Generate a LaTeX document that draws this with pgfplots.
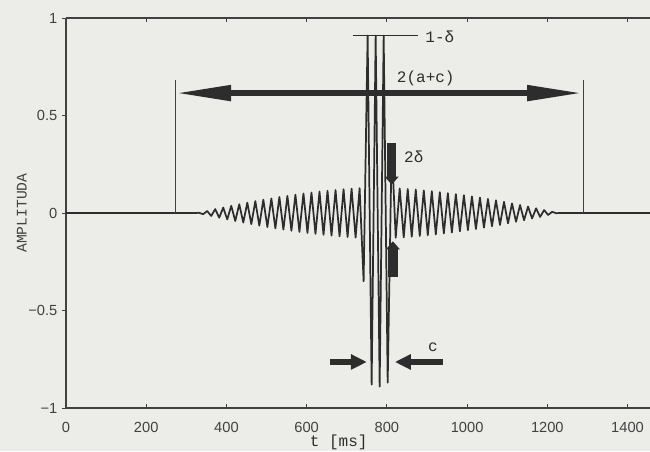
\documentclass[border=0pt]{standalone}
\usepackage{fontspec}
\setmainfont{Liberation Sans}
\newfontfamily\mono{Liberation Mono}
\usepackage{pgfplots}
\pgfplotsset{compat=1.18}
\usetikzlibrary{arrows.meta}
\definecolor{bg}{RGB}{236,236,232}
\definecolor{ink}{RGB}{45,45,45}
\definecolor{axc}{RGB}{65,65,65}
\begin{document}
\begin{tikzpicture}
\fill[bg] (-49.5pt,-32.25pt) rectangle (438pt,306pt);
\begin{axis}[
  at={(0,0)}, anchor=south west,
  scale only axis, width=438pt, height=292.5pt,
  xmin=0, xmax=1456, ymin=-1, ymax=1,
  separate axis lines,
  axis x line*=box, axis y line*=left,
  axis line style={axc, line width=0.9pt},
  xtick={0,200,...,1400}, ytick={-1,-0.5,0,0.5,1},
  yticklabels={−1,−0.5,0,0.5,1},
  /pgf/number format/1000 sep={},
  /pgf/number format/assume math mode=true,
  x tick style={axc, line width=0.6pt}, y tick style={axc, line width=0.6pt},
  xtick align=inside, ytick align=outside,
  major tick length=3pt,
  tick label style={font=\fontsize{11}{12}\selectfont, text=axc},
  xticklabel style={yshift=-7pt},
  xlabel={t [ms]}, ylabel={AMPLITUDA},
  xlabel style={at={(axis cs:680,-1)}, anchor=center, yshift=-26pt, font=\mono\fontsize{12}{13}\selectfont, text=ink},
  ylabel style={at={(axis description cs:-0.0755,0.5)}, anchor=center, font=\mono\fontsize{11}{12}\selectfont, text=axc},
  clip=true,
]
% signal
\addplot[ink, line width=1.3pt, line join=round] coordinates {
(0,0) (322,0)
(332,0.001) (342,-0.006) (352,0.010) (362,-0.015) (372,0.020) (382,-0.024)
(392,0.028) (402,-0.033) (412,0.037) (422,-0.041) (432,0.045) (442,-0.049)
(452,0.053) (462,-0.057) (472,0.061) (482,-0.065) (492,0.068) (502,-0.072)
(512,0.075) (522,-0.079) (532,0.082) (542,-0.085) (552,0.088) (562,-0.091)
(572,0.094) (582,-0.097) (592,0.100) (602,-0.102) (612,0.105) (622,-0.107)
(632,0.110) (642,-0.112) (652,0.114) (662,-0.116) (672,0.118) (682,-0.120)
(692,0.122) (702,-0.123) (712,0.125) (722,-0.126) (732,0.127)
(742,-0.35) (752,0.91) (762,-0.88) (772,0.91) (782,-0.89) (792,0.91) (802,-0.87)
(812,0.35)
(822,-0.127) (832,0.126) (842,-0.125) (852,0.123) (862,-0.122) (872,0.120)
(882,-0.118) (892,0.116) (902,-0.114) (912,0.112) (922,-0.110) (932,0.107)
(942,-0.105) (952,0.102) (962,-0.100) (972,0.097) (982,-0.094) (992,0.091)
(1002,-0.088) (1012,0.085) (1022,-0.082) (1032,0.079) (1042,-0.075) (1052,0.072)
(1062,-0.068) (1072,0.065) (1082,-0.061) (1092,0.057) (1102,-0.053) (1112,0.049)
(1122,-0.045) (1132,0.041) (1142,-0.037) (1152,0.033) (1162,-0.028) (1172,0.024)
(1182,-0.020) (1192,0.015) (1202,-0.010) (1212,0.006) (1222,-0.001)
(1232,0) (1456,0)
};
% 1-delta line
\addplot[ink, line width=0.6pt] coordinates {(716,0.91) (877,0.91)};
% bracket verticals
\addplot[axc, line width=0.6pt] coordinates {(272,0) (272,0.68)};
\addplot[axc, line width=0.6pt] coordinates {(1289,0) (1289,0.68)};
% 2(a+c) arrow
\addplot[ink, line width=4.5pt, {Triangle[length=42pt,width=11pt]}-{Triangle[length=42pt,width=11pt]}] coordinates {(272,0.615) (1289,0.615)};
% 2 delta arrows
\addplot[ink, line width=7pt, -{Triangle[length=6pt,width=10pt]}] coordinates {(812,0.36) (812,0.145)};
\addplot[ink, line width=7pt, -{Triangle[length=6pt,width=10pt]}] coordinates {(815,-0.33) (815,-0.145)};
% c arrows
\addplot[ink, line width=4.5pt, -{Triangle[length=12pt,width=11pt]}] coordinates {(658,-0.764) (750,-0.764)};
\addplot[ink, line width=4.5pt, -{Triangle[length=12pt,width=11pt]}] coordinates {(940,-0.764) (820,-0.764)};
% labels
\node[font=\mono\fontsize{12}{13}\selectfont, text=ink] at (axis cs:932,0.903) {1-δ};
\node[font=\mono\fontsize{12}{13}\selectfont, text=ink] at (axis cs:897,0.69) {2(a+c)};
\node[font=\mono\fontsize{12}{13}\selectfont, text=ink] at (axis cs:867,0.287) {2δ};
\node[font=\mono\fontsize{12}{13}\selectfont, text=ink] at (axis cs:915,-0.687) {c};
\end{axis}
\pgfresetboundingbox
\path (-49.5pt,-32.25pt) rectangle (438pt,306pt);
\end{tikzpicture}
\end{document}
